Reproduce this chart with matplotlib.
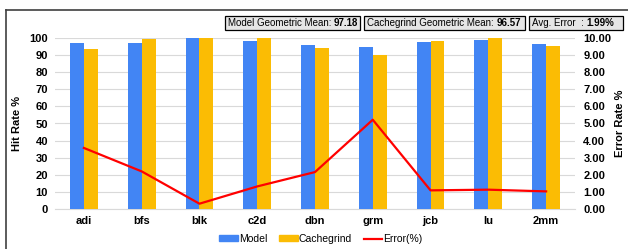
import matplotlib
matplotlib.use("Agg")
import matplotlib.pyplot as plt
import numpy as np
from matplotlib.patches import Rectangle
from matplotlib.lines import Line2D

plt.rcParams['font.family'] = ['Liberation Sans', 'DejaVu Sans']

categories = ["adi", "bfs", "blk", "c2d", "dbn", "grm", "jcb", "lu", "2mm"]
model = [97.0, 97.0, 99.8, 98.2, 96.0, 94.5, 97.5, 98.8, 96.5]
cachegrind = [93.8, 99.2, 99.8, 99.8, 94.2, 90.0, 98.5, 99.8, 95.5]
error = [3.57, 2.2, 0.31, 1.32, 2.16, 5.22, 1.09, 1.13, 1.03]
left_ticks = [0, 10, 20, 30, 40, 50, 60, 70, 80, 90, 100]
right_ticks = [0, 1, 2, 3, 4, 5, 6, 7, 8, 9, 10]

W, H = 628, 249
fig = plt.figure(figsize=(W / 100, H / 100), dpi=100)

def fx(px):
    return px / W

def fy(py):
    return 1 - py / H

AX0, AX1, AY0, AY1 = 55, 575, 38, 209
ax = fig.add_axes([fx(AX0), fy(AY1), fx(AX1) - fx(AX0), fy(AY0) - fy(AY1)])
x = np.arange(len(categories))
bw = 0.24
ax.bar(x - bw / 2, model, bw, color="#4285F4", zorder=3, label="Model")
ax.bar(x + bw / 2, cachegrind, bw, color="#FBBC04", zorder=3, label="Cachegrind")
ax.set_xlim(-0.5, len(categories) - 0.5)
ax.set_ylim(0, 100)
ax.set_yticks(left_ticks)
ax.set_yticklabels([str(t) for t in left_ticks], fontsize=8, fontweight='bold')
ax.set_xticks(x)
ax.set_xticklabels(categories, fontsize=8, fontweight='bold')
ax.tick_params(axis='x', length=0, pad=5)
ax.tick_params(axis='y', length=0, pad=5)
ax.grid(axis='y', color='#d9d9d9', linewidth=0.8, zorder=0)
for s in ['top', 'right', 'left']:
    ax.spines[s].set_visible(False)
ax.spines['bottom'].set_color('#d9d9d9')
ax.set_ylabel("Hit Rate %", fontsize=8, fontweight='bold')
ax.yaxis.set_label_coords((22 - AX0) / (AX1 - AX0), 0.5)

ax2 = ax.twinx()
ax2.plot(x, error, color="#FF0000", linewidth=1.6, zorder=4, label="Error(%)")
ax2.set_ylim(0, 10)
ax2.set_yticks(right_ticks)
ax2.set_yticklabels([f"{t:.2f}" for t in right_ticks], fontsize=8, fontweight='bold')
ax2.tick_params(axis='y', length=0, pad=6)
for s in ['top', 'right', 'left', 'bottom']:
    ax2.spines[s].set_visible(False)
ax2.set_ylabel("Error Rate %", fontsize=8, fontweight='bold')
ax2.yaxis.set_label_coords((615 - AX0) / (AX1 - AX0), 0.5)

# outer frame (left & top)
fig.add_artist(Line2D([fx(6), fx(6)], [fy(10), 0], color='#404040', linewidth=1.2))
fig.add_artist(Line2D([fx(6), 1], [fy(10), fy(10)], color='#404040', linewidth=1.2))

# info boxes
boxes = [
    (225, 360, "Model Geometric Mean: ", "97.18"),
    (364, 525, "Cachegrind Geometric Mean: ", "96.57"),
    (529, 623, "Avg. Error  : ", "1.99%"),
]
for x0, x1, t1, t2 in boxes:
    fig.add_artist(Rectangle((fx(x0), fy(30)), fx(x1) - fx(x0), fy(16) - fy(30),
                             facecolor='#e6e6e6', edgecolor='black', linewidth=0.9))
    ta = fig.text(fx(x0 + 3), fy(23), t1, fontsize=7, va='center', ha='left')
    fig.canvas.draw()
    bb = ta.get_window_extent()
    fig.text(bb.x1 / W, fy(23), t2, fontsize=7, fontweight='bold', va='center', ha='left')

handles = [Rectangle((0, 0), 1, 1, color="#4285F4"),
           Rectangle((0, 0), 1, 1, color="#FBBC04"),
           Line2D([0], [0], color="#FF0000", linewidth=1.6)]
fig.legend(handles, ["Model", "Cachegrind", "Error(%)"], loc='center',
           bbox_to_anchor=(fx(321), fy(239)), ncol=3, frameon=False, fontsize=7.5,
           handlelength=1.8, handleheight=0.5, handletextpad=0.1, columnspacing=1.1)

fig.savefig("out.png", dpi=100)
